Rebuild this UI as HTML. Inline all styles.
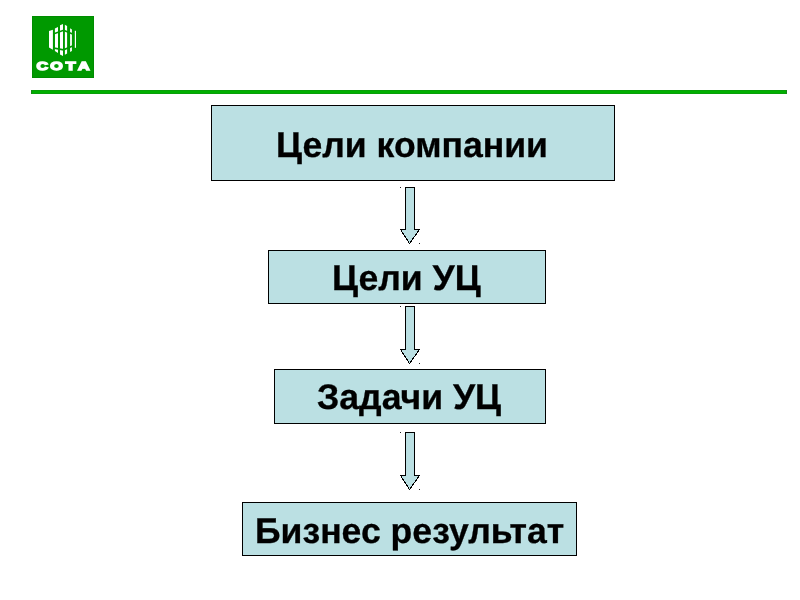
<!DOCTYPE html>
<html lang="ru">
<head>
<meta charset="utf-8">
<title>Цели компании</title>
<style>
html,body{margin:0;padding:0;background:#fff;}
body{width:800px;height:600px;position:relative;overflow:hidden;font-family:"Liberation Sans",sans-serif;}
.logo{position:absolute;left:32px;top:16px;width:62px;height:62px;background:#009900;box-shadow:inset 0 0 0 1px #008c00;will-change:transform;}
.logo svg{position:absolute;left:0;top:0;}
.rule{position:absolute;box-sizing:border-box;left:31px;top:90px;width:756px;height:4px;background:#00b000;border:1px solid #0a9e0a;border-left-color:#1c801c;border-right-color:#1c801c;}
.box{position:absolute;box-sizing:border-box;border:1px solid #000;background:#bbe0e3;}
.t{position:absolute;font-weight:bold;font-size:35.6px;line-height:40px;color:#000;white-space:nowrap;text-rendering:geometricPrecision;will-change:transform;-webkit-text-stroke:0.3px #000;}
#t1{left:275.8px;top:125px;}
#t2{left:331.8px;top:258px;}
#t3{left:317px;top:377px;}
#t4{left:255px;top:511px;}
#b1{left:211px;top:105px;width:404px;height:76px;}
#b2{left:268px;top:250px;width:278px;height:54px;}
#b3{left:274px;top:369px;width:272px;height:55px;}
#b4{left:242px;top:502px;width:335px;height:54px;}
.arrow{position:absolute;left:399px;width:22px;}
</style>
</head>
<body>
<div class="logo">
<svg width="62" height="62" viewBox="0 0 62 62">
 <g fill="#fff">
  <polygon points="17,15 20.9,13.8 20.9,33.8 17,31.5"/>
  <polygon points="22.9,12.6 26,11.1 26,36.9 22.9,35"/>
  <polygon points="28,9.3 31,7.9 31,40 28,38.6"/>
  <polygon points="32.9,8.8 35.1,10 35.1,37.6 32.9,38.8"/>
  <polygon points="38.1,12.2 39.9,13.4 39.9,35 38.1,36"/>
  <rect x="42.8" y="14.8" width="1.2" height="17"/>
 </g>
 <polygon points="31.5,14.3 41.3,18.3 41.3,29.8 31.5,33.8 21.9,32 21.9,17.8" fill="none" stroke="#009900" stroke-width="1.7"/>
 <text transform="matrix(1.6 0 0 1.1 0 53.9)" x="2.76 11.49 21.07 28.72" y="0" font-family="Liberation Sans, sans-serif" font-weight="bold" font-size="10" fill="#fff" stroke="#fff" stroke-width="1.2" stroke-linejoin="miter">COTA</text>
</svg>
</div>
<div class="rule"></div>

<div class="box" id="b1"></div>
<div class="t" id="t1">Цели компании</div>
<svg class="arrow" id="a1" style="top:186px;height:59px" width="22" height="59" viewBox="0 0 22 59" shape-rendering="crispEdges"><polygon points="6.5,1.5 15.5,1.5 15.5,43.5 20.5,43.5 10.5,57.5 1.5,43.5 6.5,43.5" fill="#bbe0e3" stroke="#000" stroke-width="1"/><rect x="1" y="1" width="1" height="1" fill="#222"/><rect x="20" y="57" width="1" height="1" fill="#222"/></svg>
<div class="box" id="b2"></div>
<div class="t" id="t2">Цели УЦ</div>
<svg class="arrow" id="a2" style="top:305px;height:60px" width="22" height="60" viewBox="0 0 22 60" shape-rendering="crispEdges"><polygon points="6.5,1.5 15.5,1.5 15.5,44.5 20.5,44.5 10.5,58.5 1.5,44.5 6.5,44.5" fill="#bbe0e3" stroke="#000" stroke-width="1"/><rect x="1" y="1" width="1" height="1" fill="#222"/><rect x="20" y="58" width="1" height="1" fill="#222"/></svg>
<div class="box" id="b3"></div>
<div class="t" id="t3">Задачи УЦ</div>
<svg class="arrow" id="a3" style="top:431px;height:60px" width="22" height="60" viewBox="0 0 22 60" shape-rendering="crispEdges"><polygon points="6.5,1.5 15.5,1.5 15.5,44.5 20.5,44.5 10.5,58.5 1.5,44.5 6.5,44.5" fill="#bbe0e3" stroke="#000" stroke-width="1"/><rect x="1" y="1" width="1" height="1" fill="#222"/><rect x="20" y="58" width="1" height="1" fill="#222"/></svg>
<div class="box" id="b4"></div>
<div class="t" id="t4">Бизнес результат</div>
</body>
</html>
